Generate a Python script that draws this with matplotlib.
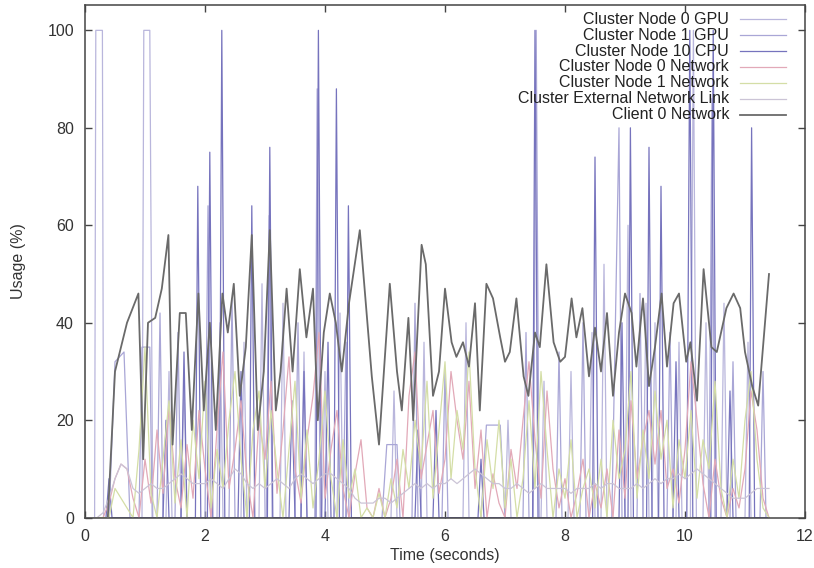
import numpy as np
import matplotlib
matplotlib.use("Agg")
import matplotlib.pyplot as plt
from matplotlib.lines import Line2D

plt.rcParams["font.family"] = ["Liberation Sans", "DejaVu Sans"]

# ---- series labels (legend order) ----
labels = [
    "Cluster Node 0 GPU",
    "Cluster Node 1 GPU",
    "Cluster Node 10 CPU",
    "Cluster Node 0 Network",
    "Cluster Node 1 Network",
    "Cluster External Network Link",
    "Client 0 Network",
]

# ---- GPU node 0 (irregular samples) ----
gpu0_t = [0.0, 0.16, 0.18, 0.29, 0.31,
          0.95, 0.98, 1.08, 1.13,
          1.35, 1.4, 1.45, 1.6, 1.65, 1.7, 2.2, 2.25, 2.3, 2.6, 2.65, 2.7,
          2.9, 2.95, 3.0, 3.25, 3.3, 3.35, 3.6, 3.65, 3.7, 3.95, 4.0, 4.05,
          4.2, 4.25, 4.3, 5.1, 5.15, 5.2, 5.6, 5.65, 5.7, 6.3, 6.35, 6.4,
          7.0, 7.05, 7.1, 7.6, 7.65, 7.7, 8.05, 8.1, 8.15, 8.4, 8.45, 8.5,
          8.6, 8.65, 8.7, 9.0, 9.05, 9.1, 9.3, 9.35, 9.4, 9.45, 9.5, 9.55,
          9.85, 9.9, 9.95, 10.09, 10.14, 10.19, 10.3, 10.35, 10.4,
          10.6, 10.65, 10.7, 11.0, 11.05, 11.1, 11.4]
gpu0_v = [0, 0, 100, 100, 0,
          0, 100, 100, 0,
          0, 30, 0, 0, 28, 0, 0, 40, 0, 0, 36, 0,
          0, 48, 0, 0, 44, 0, 0, 34, 0, 0, 30, 0,
          0, 42, 0, 0, 26, 0, 0, 36, 0, 0, 40, 0,
          0, 20, 0, 0, 28, 0, 0, 30, 0, 0, 38, 0,
          0, 52, 0, 0, 60, 0, 0, 44, 0, 0, 40, 0,
          0, 36, 0, 0, 100, 0, 0, 40, 0,
          0, 44, 0, 0, 36, 0, 0]

# ---- GPU node 1 (irregular samples) ----
gpu1_t = [0.0, 0.4, 0.5, 0.65, 0.75, 0.9, 0.95, 1.08, 1.12,
          1.2, 1.25, 1.3, 1.5, 1.55, 1.6, 2.0, 2.05, 2.1, 2.4, 2.45, 2.5,
          3.02, 3.07, 3.12, 3.5, 3.55, 3.6, 3.83, 3.87, 3.92, 4.3, 4.35, 4.4,
          4.95, 5.03, 5.2, 5.25, 5.45, 5.5, 5.55, 5.95, 6.0, 6.05,
          6.6, 6.69, 6.92, 7.0, 7.3, 7.35, 7.4, 7.47, 7.52, 7.57,
          7.85, 7.9, 7.95, 8.25, 8.3, 8.35, 8.78, 8.9, 8.95, 9.2, 9.25, 9.3,
          9.7, 9.75, 9.8, 10.4, 10.45, 10.5, 10.75, 10.8, 10.85,
          11.25, 11.3, 11.35]
gpu1_v = [0, 0, 32, 34, 0, 0, 35, 35, 0,
          0, 42, 0, 0, 38, 0, 0, 64, 0, 0, 45, 0,
          0, 62, 0, 0, 40, 0, 0, 88, 0, 0, 36, 0,
          0, 15, 15, 0, 0, 44, 0, 0, 30, 0,
          0, 19, 19, 0, 0, 38, 0, 0, 100, 0,
          0, 34, 0, 0, 40, 0, 0, 80, 0, 0, 46, 0,
          0, 38, 0, 0, 86, 0, 0, 32, 0,
          0, 30, 0]

# ---- CPU node 10 (irregular samples) ----
cpu10_t = [0.0, 0.35, 0.4, 0.45, 1.3, 1.35, 1.4, 1.6, 1.65, 1.7,
           1.84, 1.88, 1.93, 2.04, 2.08, 2.13, 2.24, 2.28, 2.33,
           2.55, 2.6, 2.65, 2.74, 2.78, 2.83, 3.04, 3.08, 3.13,
           3.4, 3.45, 3.5, 3.6, 3.65, 3.7, 3.85, 3.89, 3.94,
           4.0, 4.05, 4.1, 4.15, 4.19, 4.24, 4.35, 4.39, 4.44,
           5.5, 5.55, 5.6, 5.8, 5.85, 5.9, 6.55, 6.6, 6.65, 7.46, 7.5, 7.55,
           8.46, 8.5, 8.55, 8.9, 8.95, 9.0, 9.05, 9.09, 9.14,
           9.36, 9.4, 9.45, 9.56, 9.6, 9.65, 9.8, 9.85, 9.9,
           10.03, 10.08, 10.13, 10.43, 10.47, 10.52, 10.7, 10.75, 10.8,
           11.07, 11.11, 11.16, 11.4]
cpu10_v = [0, 0, 8, 0, 0, 20, 0, 0, 34, 0,
           0, 68, 0, 0, 75, 0, 0, 100, 0,
           0, 30, 0, 0, 64, 0, 0, 76, 0,
           0, 24, 0, 0, 30, 0, 0, 100, 0,
           0, 36, 0, 0, 88, 0, 0, 64, 0,
           0, 18, 0, 0, 22, 0, 0, 12, 0, 0, 100, 0,
           0, 74, 0, 0, 40, 0, 0, 80, 0,
           0, 76, 0, 0, 68, 0, 0, 32, 0,
           0, 100, 0, 0, 100, 0, 0, 26, 0,
           0, 80, 0, 0]

# ---- network series sampled every 0.1 s from 0.0 to 11.4 s ----
net_t = np.round(np.linspace(0.0, 11.4, 115), 2)

net0_v = [0, 0, 0, 0, 3, 8, 11, 10, 4, 0,
          12, 3, 18, 5, 23, 8, 2, 15, 4, 22,
          10, 0, 18, 34, 6, 14, 24, 8, 0, 20,
          12, 28, 5, 18, 33, 10, 3, 16, 25, 38,
          4, 14, 22, 6, 0, 9, 16, 2, 0, 6,
          0, 4, 12, 0, 25, 34, 8, 15, 22, 5,
          12, 30, 20, 12, 28, 6, 18, 0, 9, 3,
          0, 14, 6, 20, 32, 16, 4, 26, 10, 2,
          8, 0, 5, 12, 0, 7, 2, 10, 0, 18,
          4, 24, 8, 16, 22, 11, 22, 6, 10, 3,
          14, 32, 20, 7, 0, 12, 4, 0, 6, 2,
          10, 26, 18, 4, 0]

net1_v = [0, 0, 0, 0, 0, 6, 4, 2, 0, 14,
          35, 5, 0, 12, 24, 3, 16, 0, 20, 8,
          28, 2, 14, 6, 20, 30, 12, 0, 18, 26,
          6, 22, 10, 0, 14, 28, 4, 18, 2, 12,
          26, 8, 0, 16, 4, 10, 0, 2, 0, 5,
          0, 8, 2, 14, 6, 20, 10, 28, 4, 18,
          32, 8, 22, 14, 34, 10, 0, 16, 6, 20,
          2, 12, 0, 8, 24, 6, 30, 14, 0, 10,
          4, 16, 0, 6, 10, 2, 12, 0, 20, 8,
          14, 30, 4, 18, 8, 26, 12, 20, 2, 16,
          8, 22, 4, 16, 10, 28, 6, 0, 12, 4,
          20, 30, 12, 2, 0]

ext_v = [0, 0, 0, 1, 4, 8, 11, 10, 6, 5,
         6, 7, 6, 6, 7, 8, 9, 8, 7, 7,
         7, 8, 7, 6, 8, 10, 9, 7, 6, 7,
         6, 7, 8, 7, 6, 8, 9, 8, 7, 8,
         9, 9, 8, 7, 6, 4, 3, 3, 3, 4,
         4, 3, 4, 5, 6, 7, 6, 7, 6, 7,
         7, 8, 7, 8, 9, 10, 9, 8, 7, 7,
         6, 6, 7, 6, 5, 6, 7, 6, 6, 6,
         6, 5, 6, 6, 6, 7, 6, 7, 7, 6,
         6, 6, 7, 6, 7, 8, 7, 8, 8, 9,
         8, 9, 10, 9, 8, 7, 6, 5, 4, 4,
         4, 5, 6, 6, 6]

# ---- client network throughput (irregular samples) ----
client_t = [0.38, 0.50, 0.70, 0.89, 0.97, 1.05, 1.17, 1.28, 1.39, 1.46,
            1.58, 1.68, 1.78, 1.89, 1.98, 2.08, 2.18, 2.29, 2.38, 2.48,
            2.58, 2.68, 2.78, 2.88, 2.98, 3.08, 3.18, 3.26, 3.36, 3.46,
            3.58, 3.69, 3.80, 3.88, 3.98, 4.08, 4.18, 4.28, 4.40, 4.58,
            4.78, 4.90, 5.08, 5.20, 5.28, 5.39, 5.47, 5.61, 5.68, 5.80,
            5.90, 6.00, 6.11, 6.19, 6.30, 6.40, 6.50, 6.58, 6.69, 6.80,
            6.92, 7.00, 7.08, 7.19, 7.31, 7.39, 7.50, 7.58, 7.69, 7.81,
            7.92, 8.00, 8.11, 8.19, 8.29, 8.40, 8.50, 8.60, 8.70, 8.80,
            8.90, 9.00, 9.11, 9.19, 9.30, 9.40, 9.50, 9.61, 9.70, 9.81,
            9.90, 10.02, 10.09, 10.20, 10.31, 10.44, 10.53, 10.69, 10.81, 10.92,
            11.00, 11.12, 11.22, 11.40]
client_v = [0, 30, 40, 46, 12, 40, 41, 47, 58, 15,
            42, 42, 18, 46, 22, 40, 18, 46, 38, 48,
            25, 35, 58, 18, 30, 59, 22, 30, 47, 30,
            51, 37, 47, 20, 38, 46, 40, 30, 44, 59,
            29, 15, 48, 30, 22, 41, 20, 56, 52, 25,
            30, 47, 36, 33, 36, 31, 44, 22, 48, 45,
            37, 32, 34, 45, 29, 25, 38, 35, 52, 36,
            32, 33, 45, 37, 43, 29, 39, 30, 42, 25,
            38, 46, 42, 31, 45, 27, 35, 46, 31, 44,
            46, 32, 36, 24, 51, 35, 34, 43, 46, 43,
            34, 27, 23, 50]

colors = ["#b9b6dc", "#a9a6d6", "#7673bd", "#e2a9b8",
          "#d4dea6", "#cbc4d6", "#6a6a6a"]
widths = [0.9, 0.9, 0.9, 0.9, 0.9, 0.9, 1.3]

fig = plt.figure(figsize=(8.14, 5.68), dpi=100)
ax = fig.add_axes([85 / 814, 50.3 / 568, 720 / 814, 512.7 / 568])

series = [
    (gpu0_t, gpu0_v),
    (gpu1_t, gpu1_v),
    (cpu10_t, cpu10_v),
    (net_t, net0_v),
    (net_t, net1_v),
    (net_t, ext_v),
    (client_t, client_v),
]
draw_order = [5, 3, 4, 0, 1, 2, 6]
for i in draw_order:
    t, v = series[i]
    ax.plot(t, v, color=colors[i], lw=widths[i], zorder=2 + i * 0.1)

ax.set_xlim(0, 12)
ax.set_ylim(0, 105.2)
ax.set_xticks([0, 2, 4, 6, 8, 10, 12])
ax.set_yticks([0, 20, 40, 60, 80, 100])
ax.tick_params(direction="in", length=5, width=1.0, color="#444444",
               top=True, right=True, labelsize=11.5, pad=8,
               labelcolor="#333333")
for sp in ax.spines.values():
    sp.set_color("#444444")
    sp.set_linewidth(1.1)

ax.set_xlabel("Time (seconds)", fontsize=11.5, color="#333333", labelpad=3)
ax.set_ylabel("Usage (%)", fontsize=11.5, color="#333333", labelpad=15)

# gnuplot-style key: right-aligned text, sample line to its right
row_y = [19, 35, 51, 67, 83, 99, 115]
for i, lab in enumerate(labels):
    yf = (517.7 - row_y[i]) / 512.7
    ax.text((729 - 85) / 720, yf, lab, transform=ax.transAxes,
            ha="right", va="center", fontsize=11.5, color="#222222", zorder=10)
    ax.add_line(Line2D([(740 - 85) / 720, (786 - 85) / 720], [yf, yf],
                       transform=ax.transAxes, color=colors[i],
                       lw=widths[i], zorder=10))

fig.savefig("out.png", dpi=100, facecolor="white")
